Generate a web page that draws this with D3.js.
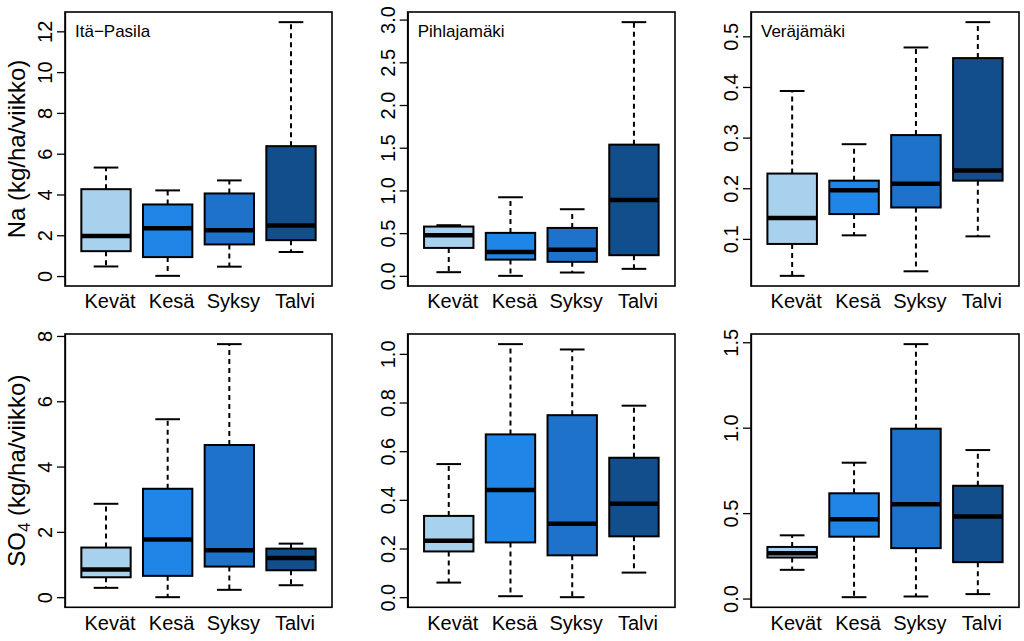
<!DOCTYPE html>
<html>
<head>
<meta charset="utf-8">
<script src="https://cdn.jsdelivr.net/npm/d3@7/dist/d3.min.js"></script>
<style>
  html, body { margin: 0; padding: 0; background: #fff; }
  svg { display: block; font-family: "Liberation Sans", Arial, Helvetica, sans-serif; }
</style>
</head>
<body>
<svg id="chart" width="1024" height="641"></svg>
<script>
// ---- data: each season as [lower whisker, Q1, median, Q3, upper whisker]
const seasons = ["Kevät", "Kesä", "Syksy", "Talvi"];
const seasonColors = ["#a8d1ee", "#1f86e8", "#1e72c9", "#134e8c"];
const sites = ["Itä−Pasila", "Pihlajamäki", "Veräjämäki"];

const naItaPasila    = [[0.47, 1.22, 1.97, 4.26, 5.32], [0.01, 0.93, 2.34, 3.51, 4.20], [0.46, 1.55, 2.24, 4.05, 4.69], [1.18, 1.76, 2.48, 6.37, 12.45]];
const naPihlajamaki  = [[0.043, 0.327, 0.476, 0.577, 0.593], [0.0, 0.19, 0.28, 0.503, 0.92], [0.039, 0.164, 0.307, 0.561, 0.78], [0.082, 0.242, 0.889, 1.536, 2.97]];
const naVerajamaki   = [[0.027, 0.090, 0.141, 0.229, 0.392], [0.107, 0.149, 0.196, 0.215, 0.287], [0.036, 0.162, 0.209, 0.305, 0.478], [0.105, 0.215, 0.235, 0.457, 0.528]];
const so4ItaPasila   = [[0.286, 0.61, 0.846, 1.52, 2.86], [0.0, 0.653, 1.77, 3.32, 5.45], [0.225, 0.937, 1.435, 4.66, 7.75], [0.366, 0.824, 1.20, 1.487, 1.64]];
const so4Pihlajamaki = [[0.06, 0.188, 0.232, 0.334, 0.547], [0.004, 0.225, 0.44, 0.669, 1.04], [0.0, 0.172, 0.302, 0.748, 1.018], [0.101, 0.25, 0.384, 0.573, 0.787]];
const so4Verajamaki  = [[0.168, 0.24, 0.265, 0.302, 0.37], [0.008, 0.362, 0.464, 0.616, 0.795], [0.012, 0.295, 0.552, 0.994, 1.489], [0.026, 0.213, 0.48, 0.66, 0.869]];

const ticksNaItaPasila    = [0, 2, 4, 6, 8, 10, 12];
const ticksNaPihlajamaki  = [0, 0.5, 1, 1.5, 2, 2.5, 3];
const ticksNaVerajamaki   = [0.1, 0.2, 0.3, 0.4, 0.5];
const ticksSo4ItaPasila   = [0, 2, 4, 6, 8];
const ticksSo4Pihlajamaki = [0, 0.2, 0.4, 0.6, 0.8, 1.0];
const ticksSo4Verajamaki  = [0, 0.5, 1.0, 1.5];

const panels = [
  { row: 0, col: 0, data: naItaPasila,    ticks: ticksNaItaPasila,    fmt: d3.format("d"),   title: sites[0] },
  { row: 0, col: 1, data: naPihlajamaki,  ticks: ticksNaPihlajamaki,  fmt: d3.format(".1f"), title: sites[1] },
  { row: 0, col: 2, data: naVerajamaki,   ticks: ticksNaVerajamaki,   fmt: d3.format(".1f"), title: sites[2] },
  { row: 1, col: 0, data: so4ItaPasila,   ticks: ticksSo4ItaPasila,   fmt: d3.format("d"),   title: null },
  { row: 1, col: 1, data: so4Pihlajamaki, ticks: ticksSo4Pihlajamaki, fmt: d3.format(".1f"), title: null },
  { row: 1, col: 2, data: so4Verajamaki,  ticks: ticksSo4Verajamaki,  fmt: d3.format(".1f"), title: null }
];

// ---- layout
const colX = [[65, 332], [407.7, 675], [751, 1019]];
const rowY = [[12, 286], [334, 607.3]];
const labelBase = [308, 630];

const svg = d3.select("#chart");

panels.forEach(p => {
  const [x0, x1] = colX[p.col];
  const [y0, y1] = rowY[p.row];
  const g = svg.append("g");

  // R-style 4% extension of data range
  const lo = d3.min(p.data, d => d[0]);
  const hi = d3.max(p.data, d => d[4]);
  const ext = (hi - lo) * 0.04;
  const y = d3.scaleLinear().domain([lo - ext, hi + ext]).range([y1, y0]);
  const x = d3.scaleLinear().domain([0.335, 4.665]).range([x0, x1]);
  const bw = x(1.4) - x(1);   // half box width
  const cw = bw / 2;          // half staple width

  p.data.forEach((s, i) => {
    const cx = x(i + 1);
    const [lw, q1, md, q3, uw] = s;
    // whiskers
    g.append("line").attr("x1", cx).attr("x2", cx).attr("y1", y(q3)).attr("y2", y(uw))
      .attr("stroke", "#000").attr("stroke-width", 2).attr("stroke-dasharray", "5,4");
    g.append("line").attr("x1", cx).attr("x2", cx).attr("y1", y(q1)).attr("y2", y(lw))
      .attr("stroke", "#000").attr("stroke-width", 2).attr("stroke-dasharray", "5,4");
    // staples
    [uw, lw].forEach(v => {
      g.append("line").attr("x1", cx - cw).attr("x2", cx + cw).attr("y1", y(v)).attr("y2", y(v))
        .attr("stroke", "#000").attr("stroke-width", 2);
    });
    // box
    g.append("rect").attr("x", cx - bw).attr("width", 2 * bw)
      .attr("y", y(q3)).attr("height", y(q1) - y(q3))
      .attr("fill", seasonColors[i]).attr("stroke", "#000").attr("stroke-width", 2);
    // median
    g.append("line").attr("x1", cx - bw).attr("x2", cx + bw).attr("y1", y(md)).attr("y2", y(md))
      .attr("stroke", "#000").attr("stroke-width", 4.5);
    // category label
    g.append("text").attr("x", cx + 4).attr("y", labelBase[p.row])
      .attr("text-anchor", "middle").attr("font-size", 20).text(seasons[i]);
  });

  // frame
  g.append("rect").attr("x", x0).attr("y", y0).attr("width", x1 - x0).attr("height", y1 - y0)
    .attr("fill", "none").attr("stroke", "#000").attr("stroke-width", 1.6);

  // y axis
  const axis = d3.axisLeft(y).tickValues(p.ticks).tickFormat(p.fmt).tickSize(8).tickSizeOuter(0);
  const ag = g.append("g").attr("transform", `translate(${x0},0)`).call(axis);
  ag.select(".domain").attr("stroke-width", 1.3);
  ag.selectAll(".tick line").attr("stroke-width", 1.3);
  ag.selectAll(".tick text")
    .attr("font-size", 20)
    .attr("font-family", "Liberation Sans, Arial, sans-serif")
    .attr("fill", "#000")
    .attr("x", null).attr("dy", null)
    .attr("text-anchor", "middle")
    .attr("transform", "translate(-13,0) rotate(-90)")
    .attr("y", 0);

  // site title
  if (p.title) {
    g.append("text").attr("x", x0 + 10).attr("y", y0 + 25)
      .attr("font-size", 17).text(p.title);
  }
});

// y axis titles
const t1 = svg.append("text").attr("transform", `translate(25,${(rowY[0][0] + rowY[0][1]) / 2}) rotate(-90)`)
  .attr("text-anchor", "middle").attr("font-size", 24).text("Na (kg/ha/viikko)");
const t2 = svg.append("text").attr("transform", `translate(25,${(rowY[1][0] + rowY[1][1]) / 2}) rotate(-90)`)
  .attr("text-anchor", "middle").attr("font-size", 24);
t2.append("tspan").text("SO");
t2.append("tspan").attr("font-size", 17).attr("dy", 5).text("4");
t2.append("tspan").attr("dy", -5).text(" (kg/ha/viikko)");
</script>
</body>
</html>
